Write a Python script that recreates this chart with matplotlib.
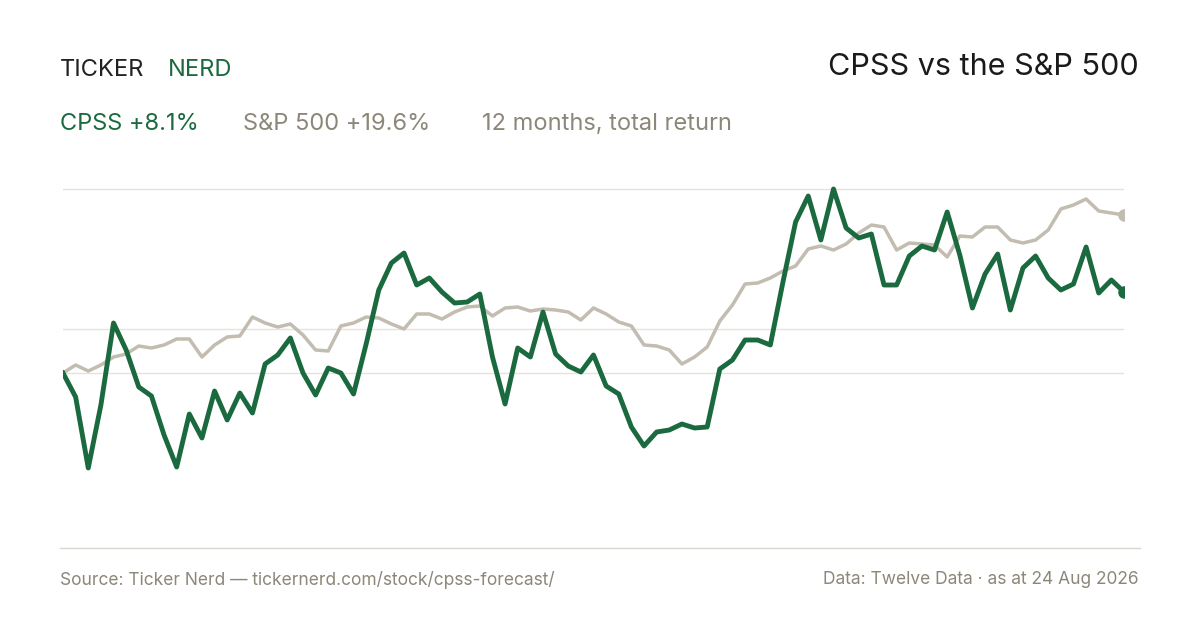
import numpy as np
import matplotlib.pyplot as plt
from matplotlib.lines import Line2D

plt.rcParams['font.family'] = ['Inter', 'DejaVu Sans']

# total return, %
cpss = [0.0, -2.4, -9.5, -3.2, 5.0, 2.3, -1.4, -2.3, -6.2, -9.4, -4.1, -6.5, -1.8, -4.7, -2.0, -4.0,
        0.9, 1.8, 3.5, 0.0, -2.2, 0.5, 0.0, -2.1, 2.9, 8.3, 11.0, 12.0, 8.8, 9.5, 8.1, 7.0,
        7.1, 7.9, 1.6, -3.1, 2.5, 1.6, 6.1, 1.9, 0.7, 0.1, 1.8, -1.3, -2.1, -5.4, -7.3, -5.9,
        -5.7, -5.1, -5.5, -5.4, 0.4, 1.3, 3.3, 3.3, 2.8, 9.1, 15.1, 17.7, 13.3, 18.4, 14.5, 13.5,
        13.9, 8.8, 8.8, 11.7, 12.7, 12.3, 16.1, 11.8, 6.5, 9.9, 11.9, 6.3, 10.5, 11.7, 9.5, 8.3,
        8.9, 12.6, 8.0, 9.3, 8.1]
spx = [0.0, 0.8, 0.2, 0.8, 1.6, 1.9, 2.7, 2.5, 2.8, 3.4, 3.4, 1.6, 2.8, 3.6, 3.7, 5.6,
       5.0, 4.6, 4.9, 3.8, 2.3, 2.2, 4.7, 5.0, 5.6, 5.5, 4.9, 4.4, 5.9, 5.9, 5.4, 6.1,
       6.6, 6.7, 5.7, 6.5, 6.6, 6.2, 6.4, 6.3, 6.1, 5.3, 6.5, 5.9, 5.1, 4.7, 2.8, 2.7,
       2.3, 0.9, 1.6, 2.6, 5.2, 6.8, 8.9, 9.0, 9.5, 10.2, 10.7, 12.4, 12.7, 12.3, 12.9, 14.0,
       14.8, 14.6, 12.3, 13.0, 12.9, 12.8, 11.6, 13.7, 13.6, 14.6, 14.6, 13.3, 13.0, 13.3, 14.3, 16.4,
       16.8, 17.4, 16.2, 16.0, 15.8]
grid_vals = [0.0, 4.4, 18.4]
x = np.arange(len(cpss))

green = '#1b6a3f'
sand = '#c3bcb0'
grey = '#8c8778'

fig = plt.figure(figsize=(12, 6.3), dpi=100)
ax = fig.add_axes([63/1200, 82/630, (1124-63)/1200, 388/630])
for g in grid_vals:
    ax.axhline(g, color='#e6e3dc', lw=1, zorder=0)
ax.plot(x, spx, color=sand, lw=2.5, zorder=2)
ax.plot(x, cpss, color=green, lw=3.5, zorder=3)
ax.plot(x[-1], spx[-1], 'o', color=sand, ms=8, zorder=4)
ax.plot(x[-1], cpss[-1], 'o', color=green, ms=8, zorder=4)
ax.set_xlim(0, len(x) - 1)
ax.set_ylim(-17.5, 21.3)
ax.axis('off')

fig.add_artist(Line2D([60/1200, 1140/1200], [82/630, 82/630], color='#d9d5cc', lw=1))

fig.text(60/1200, 1 - 70/630, 'TICKER', fontsize=17, color='#222222', va='center')
fig.text(168/1200, 1 - 70/630, 'NERD', fontsize=17, color=green, va='center')
fig.text(1139/1200, 1 - 67/630, 'CPSS vs the S&P 500', fontsize=22, color='#1a1a1a', va='center', ha='right')
fig.text(60/1200, 1 - 124/630, 'CPSS +8.1%', fontsize=17, color=green, va='center')
fig.text(243/1200, 1 - 124/630, 'S&P 500 +19.6%', fontsize=17, color=grey, va='center')
fig.text(482/1200, 1 - 124/630, '12 months, total return', fontsize=17, color=grey, va='center')
fig.text(60/1200, 1 - 580/630, 'Source: Ticker Nerd — tickernerd.com/stock/cpss-forecast/', fontsize=12.5, color=grey, va='center')
fig.text(1139/1200, 1 - 580/630, 'Data: Twelve Data · as at 24 Aug 2026', fontsize=12.5, color=grey, va='center', ha='right')

fig.savefig('out.png', dpi=100, facecolor='white')
